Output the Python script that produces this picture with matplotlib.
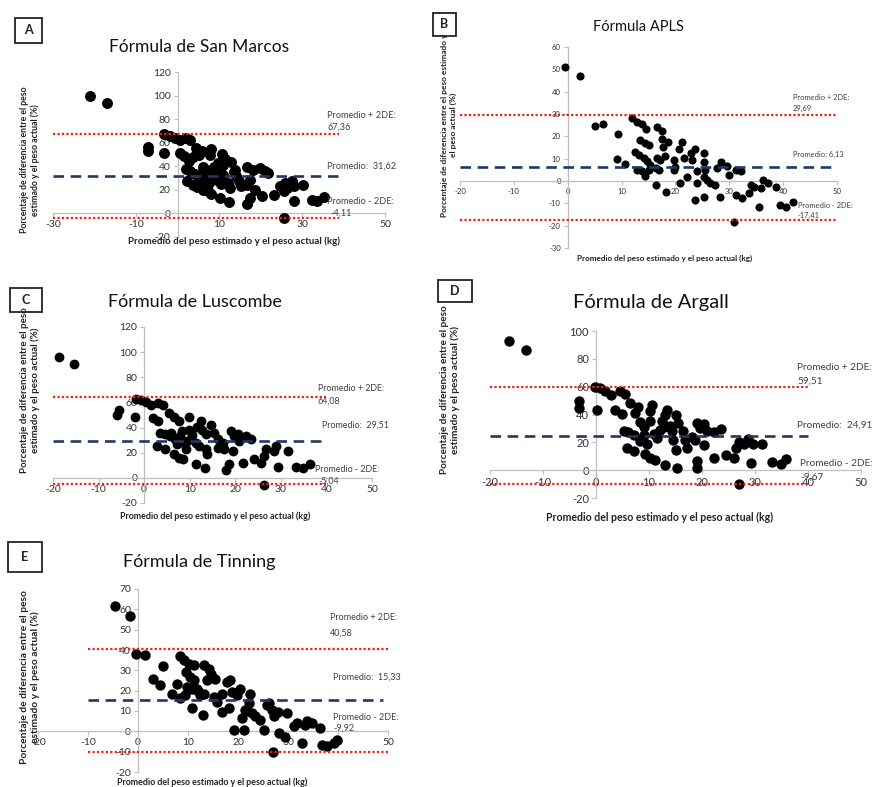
"""
Bland-Altman style panels for five weight-estimation formulas
"""
import matplotlib
matplotlib.use("Agg")
import matplotlib.pyplot as plt
from matplotlib.patches import Rectangle

plt.rcParams['font.family'] = ['Lato', 'DejaVu Sans']
plt.rcParams['axes.unicode_minus'] = False

W, H = 877, 787

####################################
# Data
# ----------------------------------

# A - San Marcos
a_x = [-21, -17, -7.1, -7.1, -3.3, -3.3, -1.9, -0.6, 0.6, 2.0, 3.0, 0.7, 1.6, 2.7,
       3.7, 4.5, 5.9, 5.3, 8.1, 7.9, 10.8, 11.4, 13.0, 2.0, 3.0, 4.1, 4.9, 5.7, 6.5,
       6.1, 6.9, 5.9, 7.3, 8.1, 8.9, 8.9, 9.8, 10.2, 11.0, 9.8, 6.9, 7.3, 8.1, 2.4,
       3.7, 10.2, 12.4, 12.2, 12.6, 13.8, 14.2, 14.9, 15.4, 16.7, 17.5, 16.8, 18.3,
       19.9, 21.1, 21.9, 17.5, 16.8, 20.3, 18.7, 23.2, 24.8, 25.6, 26.0, 27.6, 28.0,
       26.4, 30.3, 28.0, 32.5, 33.7, 35.2, 25.6, 9.5, 11.0, 13.5, 10.5, 7.5, 4.8, 6.2]
a_y = [100, 94, 56.6, 53.2, 51.5, 67.2, 65.5, 63.6, 62.7, 64.4, 62.2, 51, 48.7, 44.8,
       48.2, 55.2, 53.2, 49.6, 54.3, 49.6, 50.4, 45.9, 44, 37.5, 35.6, 33.6, 31.4,
       29.1, 27.2, 39.8, 37, 34.2, 32.8, 37, 39.8, 34.2, 42.6, 37, 41.2, 30, 23, 18.8,
       16.8, 27.2, 24.4, 13.2, 9.5, 25.8, 21.6, 37, 31.4, 27.2, 23, 24.4, 28.6, 39.8,
       37, 38.4, 35.6, 34.2, 13.2, 7.6, 15.1, 20.2, 16, 23, 18.8, 25.8, 27.2, 23, 21.6,
       24.4, 10.4, 11.8, 10.4, 14, -3.6, 28, 33, 35, 25, 26, 22.6, 20.3]
a_lim = [67.36, 31.62, -4.11]

# B - APLS
b_x = [-0.5, 2.3, 5.1, 6.5, 9.4, 9.1, 10.7, 11.9, 12.8, 13.8, 14.6, 13.5, 14.4, 15.0,
       12.5, 13.2, 14.1, 14.7, 15.3, 12.8, 13.8, 14.4, 15.0, 16.6, 17.5, 17.5, 17.7,
       16.6, 17.2, 16.3, 16.9, 18.1, 18.7, 16.4, 18.3, 19.7, 20.0, 19.7, 20.6, 21.2,
       21.5, 22.2, 20.9, 22.8, 23.1, 23.7, 24.0, 24.0, 23.7, 25.3, 25.3, 25.4, 25.3,
       25.9, 26.5, 27.4, 25.3, 27.7, 28.5, 28.2, 29.6, 29.9, 31.2, 32.1, 30.8, 31.3,
       32.4, 33.6, 34.0, 34.6, 35.5, 35.8, 36.3, 37.2, 38.6, 39.4, 40.6, 41.9]
b_y = [51, 46.8, 24.5, 25.7, 20.9, 9.9, 7.7, 28.0, 26.5, 25.3, 23.5, 18.3, 16.8, 16.1,
       13.2, 11.7, 10.2, 8.8, 7.3, 5.1, 4.3, 2.1, 5.1, 24.1, 22.6, 18.9, 15.2, 10.2,
       9.4, 5.7, 5.0, 11.0, 17.5, -1.8, -4.8, 9.4, 6.4, 5.0, 14.5, 17.5, 10.2, 2.0,
       -1.0, 12.4, 9.4, 14.5, 4.3, -1.0, -8.5, 12.4, 8.7, 5.1, 2.0, 0.5, -1.0, -1.8,
       -7.0, 5.7, 8.7, -7.0, 6.5, 2.9, 5.1, 4.3, -18.4, -6.3, -7.8, -5.5, -1.8, -2.5,
       -11.5, -3.3, 0.5, -1.0, -2.5, -10.8, -11.5, -9.2]
b_lim = [29.69, 6.13, -17.41]

# C - Luscombe
c_x = [-18.7, -15.3, -5.6, -5.9, -2.0, -1.7, -0.6, 0.5, 1.6, 3.1, 4.2, 1.9, 3.1, 3.5,
       4.6, 5.7, 2.8, 4.6, 5.4, 6.5, 7.6, 6.8, 7.2, 7.9, 6.5, 7.6, 8.6, 9.1, 9.5, 8.4,
       9.8, 9.8, 10.6, 11.7, 12.4, 12.8, 11.4, 13.5, 11.4, 13.3, 13.5, 13.8, 14.6,
       15.4, 16.1, 16.1, 17.2, 17.6, 17.9, 18.7, 19.0, 19.8, 19.4, 20.5, 20.9, 21.6,
       22.4, 23.5, 24.2, 25.7, 26.4, 26.8, 28.6, 29.0, 29.3, 31.5, 33.3, 34.8, 36.3,
       26.4, 8.0, 10.2, 6.0, 12.0]
c_y = [96.3, 90.2, 54, 50, 48.7, 63.1, 62, 60, 58, 59.3, 58, 47.6, 45, 35.8, 34.5,
       33.2, 25.3, 22.6, 51.3, 48.7, 45, 30.6, 26.6, 33.2, 18.7, 16, 14.8, 22.6, 29.3,
       37.3, 48.7, 38.1, 34.1, 40.7, 45, 38.1, 28, 34.5, 10.9, 7.7, 22.6, 18.7, 42,
       35.8, 30.6, 23.8, 27.9, 22.6, 6.1, 11.1, 37.3, 33.2, 21.3, 34.5, 29.3, 12.2,
       33.2, 30.6, 14.8, 12.2, 17.4, 22.6, 21.3, 25.3, 8.9, 21.3, 8.9, 7.7, 11.4,
       -5.3, 28.5, 31.0, 36.0, 25.0]
c_lim = [64.08, 29.51, -5.04]

# D - Argall
d_x = [-16.5, -13.2, -3.3, -3.3, 0.1, -0.2, 0.7, 1.7, 2.9, 4.5, 5.5, 3.6, 4.9, 6.4,
       8.0, 7.4, 5.2, 6.1, 7.1, 8.3, 9.0, 5.8, 7.1, 8.3, 9.0, 9.6, 10.2, 10.5, 10.2,
       9.2, 10.2, 11.1, 11.5, 12.1, 12.4, 13.1, 13.4, 14.0, 14.3, 13.1, 15.3, 15.0,
       14.6, 15.0, 15.5, 16.5, 16.8, 17.1, 18.1, 18.7, 19.0, 19.6, 20.3, 20.9, 20.3,
       19.0, 19.0, 22.2, 23.5, 22.2, 24.5, 26.0, 26.4, 27.0, 28.0, 28.6, 29.6, 29.3,
       31.4, 27.0, 33.3, 34.9, 35.8, 11.0, 12.8, 8.6]
d_y = [92.5, 86, 49.4, 44.8, 43.1, 59.9, 58.7, 56.9, 54.1, 56.9, 54.6, 42.9, 40.1,
       48.3, 45.3, 41.3, 28.4, 27.3, 25, 34.3, 30.8, 16.2, 13.9, 20.9, 25.6, 18.6,
       35.4, 47, 42.4, 11.6, 8.4, 7.2, 23.2, 29, 35, 40, 43.5, 31.7, 28.2, 3.7, 1.4,
       40, 21.4, 14.4, 34.1, 28.4, 21.4, 15.6, 23.7, 21.4, 34.1, 30.6, 33, 28.4, 18,
       6.5, 1.8, 27.3, 29.6, 8.8, 11.2, 8.8, 15.6, 20.3, 19.1, 22.6, 19.1, 5.1, 19.1,
       -9.9, 5.8, 4.7, 8.1, 26.0, 31.0, 22.0]
d_lim = [59.51, 24.91, -9.67]

# E - Tinning
e_x = [-4.6, -1.6, -0.5, 1.3, 2.9, 4.9, 4.4, 6.7, 7.7, 8.4, 9.2, 10.1, 11.1, 8.4,
       9.4, 9.7, 10.7, 9.6, 10.3, 11.1, 11.7, 12.4, 13.1, 13.1, 14.1, 13.7, 10.7, 12.9,
       15.1, 15.7, 15.4, 16.7, 17.7, 18.4, 16.7, 18.1, 18.7, 19.7, 20.4, 19.1, 21.2,
       20.7, 21.4, 22.1, 22.4, 22.7, 23.4, 24.4, 25.7, 26.7, 27.1, 26.1, 27.9, 29.7,
       28.1, 29.4, 31.1, 31.7, 32.7, 33.4, 33.7, 34.7, 36.4, 36.7, 37.7, 39.1, 39.7,
       26.9, 25.1, 12.0, 14.5, 21.8]
e_y = [61.7, 56.8, 38, 37.5, 25.5, 32.1, 22.7, 18.6, 23.5, 37, 35, 33.3, 32.5, 16.2,
       17.8, 21.9, 21, 29.2, 26.8, 25.1, 21, 17.8, 18.6, 32.5, 30.9, 25.1, 11.7, 8.1,
       17, 14.5, 25.9, 18.6, 24.3, 25.1, 9.7, 11.3, 19.4, 17.8, 21, 0.7, 0.7, 6.4,
       10.5, 13.7, 18.6, 8.9, 7.3, 5.6, 13, 10.5, 7.3, 13.7, 9.7, 8.9, -1, -2.6, 2.4,
       4, -5.8, 3.2, 4.9, 4, 1.6, -6.6, -7.4, -5.8, -4.1, -10.2, 0.5, 20.0, 28.0, 10.0]
e_lim = [40.58, 15.33, -9.92]


def fmt(v):
    return f"{v:.2f}".replace('.', ',')


fig = plt.figure(figsize=(W / 100, H / 100), dpi=100)
fig.patch.set_facecolor('white')


def ftext(x, y, s, **kw):
    fig.text(x / W, 1 - y / H, s, **kw)


def panel(rect, xs, ys, lims, xlim, ylim, xticks, yticks, red_span, blue_span,
          msize, tsize, letter, box, title, title_xy, title_size,
          ylab, ylab_xy, ylab_size, xlab_xy, xlab_size, notes, note_size):
    l, t, r, b = rect
    ax = fig.add_axes([l / W, 1 - b / H, (r - l) / W, (b - t) / H])
    ax.set_xlim(xlim)
    ax.set_ylim(ylim)
    ax.patch.set_alpha(0)
    for side in ('top', 'right'):
        ax.spines[side].set_visible(False)
    for side in ('left', 'bottom'):
        ax.spines[side].set_position(('data', 0))
        ax.spines[side].set_color('#bfbfbf')
        ax.spines[side].set_linewidth(0.9)
    ax.set_xticks(xticks)
    ax.set_yticks(yticks)
    ax.tick_params(direction='out', length=3, width=0.8, color='#bfbfbf',
                   labelsize=tsize, labelcolor='#333333', pad=2)

    ax.scatter(xs, ys, s=msize, color='black', zorder=3, clip_on=False,
               linewidths=0)
    hi, mean, lo = lims
    ax.plot(red_span, [hi, hi], color='#ff1a1a', ls=(0, (1, 1)), lw=1.6, zorder=4)
    ax.plot(red_span, [lo, lo], color='#ff1a1a', ls=(0, (1, 1)), lw=1.6, zorder=4)
    ax.plot(blue_span, [mean, mean], color='#1f3864', ls=(0, (4, 2.5)), lw=1.9,
            zorder=4)

    # panel letter box
    bx0, by0, bx1, by1 = box
    fig.patches.append(Rectangle((bx0 / W, 1 - by1 / H), (bx1 - bx0) / W,
                                 (by1 - by0) / H, transform=fig.transFigure,
                                 fill=False, edgecolor='#222222', lw=1.3))
    ftext((bx0 + bx1) / 2, (by0 + by1) / 2, letter, ha='center', va='center',
          fontsize=9, fontweight='bold', color='#222222')

    ftext(title_xy[0], title_xy[1], title, ha='center', va='center',
          fontsize=title_size, color='#111111')
    ftext(ylab_xy[0], ylab_xy[1], ylab, ha='center', va='center', rotation=90,
          fontsize=ylab_size, fontweight='bold', color='#222222',
          multialignment='center', linespacing=1.15)
    ftext(xlab_xy[0], xlab_xy[1], 'Promedio del peso estimado y el peso actual (kg)',
          ha='center', va='center', fontsize=xlab_size, fontweight='bold',
          color='#222222')

    strings = ['Promedio + 2DE:', fmt(hi), notes[2], 'Promedio - 2DE:', fmt(lo)]
    for (nx, ny), s in zip(notes[:2] + [notes[3]] + notes[4:6], strings):
        ftext(nx, ny, s, ha='left', va='center', fontsize=note_size, color='#404040')
    return ax


ylab_a = 'Porcentaje de diferencia entre el peso\nestimado y el peso actual (%)'
ylab_b = 'Porcentaje de diferencia entre el peso estimado y\nel peso actual (%)'

panel((53, 72, 385, 237), a_x, a_y, a_lim, (-30, 50), (-20, 120),
      [-30, -10, 10, 30, 50], range(-20, 121, 20), [-30, 39], [-30, 40],
      62, 7.5, 'A', (15, 18, 42, 43), 'Fórmula de San Marcos', (199, 47), 12.5,
      ylab_a, (30, 160), 6.3, (234, 241), 7.0,
      [(327, 115), (327, 127), 'Promedio:  ' + fmt(a_lim[1]), (327, 166),
       (327, 202), (330, 213)], 6.6)

panel((460, 47, 837, 248), b_x, b_y, b_lim, (-20, 50), (-30, 60),
      range(-20, 51, 10), range(-30, 61, 10), [-20, 50], [-20, 50],
      34, 5.6, 'B', (433, 13, 456, 36), 'Fórmula APLS', (638, 27), 10.5,
      ylab_b, (449, 125), 6.0, (665, 258), 5.9,
      [(793, 98), (793, 108), 'Promedio: ' + fmt(b_lim[1]), (793, 154),
       (798, 206), (798, 215)], 5.4)

panel((53, 327, 372, 503), c_x, c_y, c_lim, (-20, 50), (-20, 120),
      range(-20, 51, 10), range(-20, 121, 20), [-20, 40], [-20, 40],
      50, 7.5, 'C', (10, 288, 42, 312), 'Fórmula de Luscombe', (195, 302), 13,
      ylab_a, (30, 390), 7.0, (215, 516), 6.4,
      [(318, 389), (318, 401), 'Promedio:  ' + fmt(c_lim[1]), (322, 425),
       (315, 469), (318, 481)], 6.4)

panel((490, 331, 861, 498), d_x, d_y, d_lim, (-20, 50), (-20, 100),
      range(-20, 51, 10), range(-20, 101, 20), [-20, 40], [-20, 40],
      56, 8, 'D', (438, 280, 472, 302), 'Fórmula de Argall', (651, 303), 14.5,
      ylab_a, (450, 390), 7.2, (660, 517), 7.6,
      [(797, 368), (797, 381), 'Promedio:  ' + fmt(d_lim[1]), (797, 425),
       (800, 464), (800, 477)], 7.2)

panel((38, 589, 388, 772), e_x, e_y, e_lim, (-20, 50), (-20, 70),
      range(-20, 51, 10), range(-20, 71, 10), [-10, 50], [-10, 49],
      56, 7.5, 'E', (8, 542, 42, 572), 'Fórmula de Tinning', (199, 562), 13,
      ylab_a, (30, 677), 7.4, (212, 782), 6.4,
      [(330, 618), (330, 633), 'Promedio:  ' + fmt(e_lim[1]), (333, 677),
       (333, 717), (333, 728)], 6.5)

fig.savefig('out.png', dpi=100)
